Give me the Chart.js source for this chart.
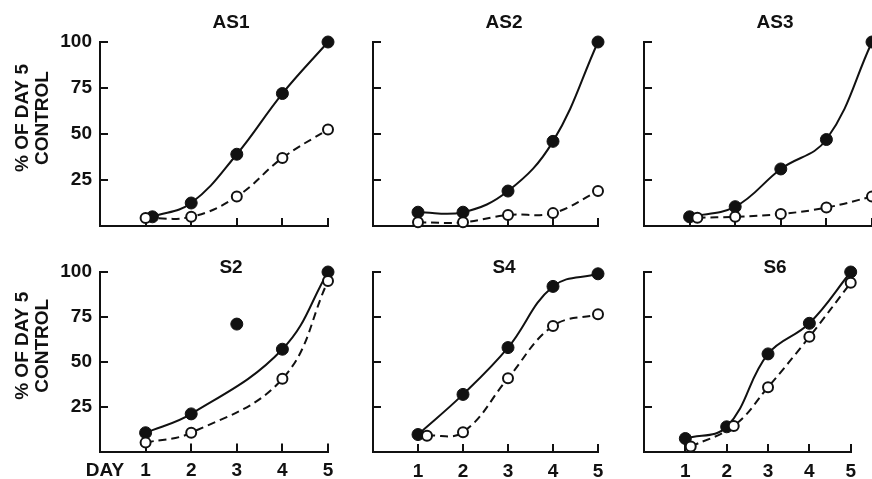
<!DOCTYPE html>
<html>
<head>
<meta charset="utf-8">
<script src="https://cdn.jsdelivr.net/npm/chart.js@4.4.0/dist/chart.umd.min.js"></script>
<style>
  html, body { margin: 0; padding: 0; background: #fff; }
  #wrap { position: relative; width: 872px; height: 479px; overflow: hidden; }
  #wrap canvas { position: absolute; left: 0; top: 0; }
</style>
</head>
<body>
<div id="wrap"></div>
<script>
// values, % of day-5 control
var panelNames = ['AS1', 'AS2', 'AS3', 'S2', 'S4', 'S6'];
var dayTicks = [1, 2, 3, 4, 5];
var pctTicks = [25, 50, 75, 100];

// filled circles (solid curve)
var filledDays = [
    [1.15, 2, 3, 4, 5],
    [1, 2, 3, 4, 5],
    [1, 2, 3, 4, 5],
    [1, 2, 4, 5],
    [1, 2, 3, 4, 5],
    [1, 2, 3, 4, 5]
];
var filledValues = [
    [5, 12.5, 39, 72, 100],
    [7.5, 7.5, 19, 46, 100],
    [5, 10.5, 31, 47, 100],
    [10.5, 21, 57, 100],
    [9.7, 32, 58, 92, 99],
    [7.5, 14, 54.5, 71.5, 100]
];

// open circles (dashed curve)
var openDays = [
    [1, 2, 3, 4, 5],
    [1, 2, 3, 4, 5],
    [1.17, 2, 3, 4, 5],
    [1, 2, 4, 5],
    [1.2, 2, 3, 4, 5],
    [1.13, 2.17, 3, 4, 5]
];
var openValues = [
    [4.3, 5, 16, 37, 52.5],
    [2, 2, 6, 7, 19],
    [4.5, 5, 6.5, 10, 16],
    [5, 10.5, 40.5, 95],
    [9, 11, 41, 70, 76.5],
    [3, 14.5, 36, 64, 94]
];

// S2 day 3 filled point sits off the curve
var strayDays = [[], [], [], [3], [], []];
var strayValues = [[], [], [], [71], [], []];

var INK = '#111';
var FONT_FAMILY = '"Liberation Sans", Arial, Helvetica, sans-serif';
var FONT_SIZE = 19;
var FONT_WEIGHT = 'bold';

// plot placement on the page
var colLeft = [100, 373, 644];
var colWidth = [228, 225, 228];
var rowTop = [42, 272];
var rowHeight = [184, 180];
var titleDrop = [19.5, 4];
var yAxisWidth = 60;
var xAxisHeight = 27;

Chart.defaults.font.family = FONT_FAMILY;
Chart.defaults.font.size = FONT_SIZE;
Chart.defaults.font.weight = FONT_WEIGHT;
Chart.defaults.color = INK;

function pairs(xs, ys) {
    return xs.map(function (x, i) { return { x: x, y: ys[i] }; });
}

var panelText = {
    id: 'panelText',
    afterDraw: function (chart, args, opts) {
        var ctx = chart.ctx;
        var area = chart.chartArea;
        ctx.save();
        ctx.fillStyle = INK;
        ctx.font = FONT_WEIGHT + ' ' + FONT_SIZE + 'px ' + FONT_FAMILY;
        ctx.textAlign = 'center';
        ctx.textBaseline = 'middle';
        ctx.fillText(opts.title, area.left + 131, area.top - opts.titleDrop);

        if (opts.yTitle) {
            ctx.save();
            ctx.translate(33, (area.top + area.bottom) / 2 - 16);
            ctx.rotate(-Math.PI / 2);
            ctx.fillText('% OF DAY 5', 0, -10);
            ctx.fillText('CONTROL', 0, 10);
            ctx.restore();
        }
        if (opts.dayLabel) {
            ctx.fillText('DAY', 105, area.bottom + 19);
        }
        ctx.restore();
    }
};

var wrap = document.getElementById('wrap');

panelNames.forEach(function (name, i) {
    var row = Math.floor(i / 3);
    var col = i % 3;

    var canvas = document.createElement('canvas');
    canvas.width = 872;
    canvas.height = 479;
    wrap.appendChild(canvas);

    var axisGrid = {
        display: true,
        drawOnChartArea: false,
        drawTicks: true,
        tickLength: -8,
        color: INK,
        lineWidth: 2
    };

    new Chart(canvas, {
        type: 'scatter',
        data: {
            datasets: [{
                data: pairs(strayDays[i], strayValues[i]),
                showLine: false,
                pointRadius: 6,
                pointBackgroundColor: INK,
                pointBorderColor: INK,
                pointBorderWidth: 1,
                order: 0,
                clip: false
            }, {
                data: pairs(openDays[i], openValues[i]),
                showLine: true,
                borderColor: INK,
                borderWidth: 2,
                borderDash: [8, 5],
                tension: 0.4,
                pointRadius: 5,
                pointBackgroundColor: '#fff',
                pointBorderColor: INK,
                pointBorderWidth: 2,
                order: 1,
                clip: false
            }, {
                data: pairs(filledDays[i], filledValues[i]),
                showLine: true,
                borderColor: INK,
                borderWidth: 2,
                tension: 0.4,
                pointRadius: 6,
                pointBackgroundColor: INK,
                pointBorderColor: INK,
                pointBorderWidth: 1,
                order: 2,
                clip: false
            }]
        },
        options: {
            responsive: false,
            animation: false,
            devicePixelRatio: 1,
            events: [],
            layout: {
                autoPadding: false,
                padding: {
                    left: colLeft[col] - yAxisWidth,
                    top: rowTop[row],
                    right: 872 - colLeft[col] - colWidth[col],
                    bottom: 479 - rowTop[row] - rowHeight[row] - xAxisHeight
                }
            },
            plugins: {
                legend: { display: false },
                tooltip: { enabled: false },
                panelText: {
                    title: name,
                    titleDrop: titleDrop[row],
                    yTitle: col === 0,
                    dayLabel: i === 3
                }
            },
            scales: {
                x: {
                    type: 'linear',
                    min: 0,
                    max: 5,
                    afterBuildTicks: function (scale) {
                        scale.ticks = dayTicks.map(function (v) { return { value: v }; });
                    },
                    afterFit: function (scale) { scale.height = xAxisHeight; },
                    grid: axisGrid,
                    border: { display: true, color: INK, width: 2 },
                    ticks: { display: row === 1, padding: 16, maxRotation: 0 }
                },
                y: {
                    min: 0,
                    max: 100,
                    afterBuildTicks: function (scale) {
                        scale.ticks = pctTicks.map(function (v) { return { value: v }; });
                    },
                    afterFit: function (scale) { scale.width = yAxisWidth; },
                    grid: axisGrid,
                    border: { display: true, color: INK, width: 2 },
                    ticks: { display: col === 0, padding: 16 }
                }
            }
        },
        plugins: [panelText]
    });
});
</script>
</body>
</html>
